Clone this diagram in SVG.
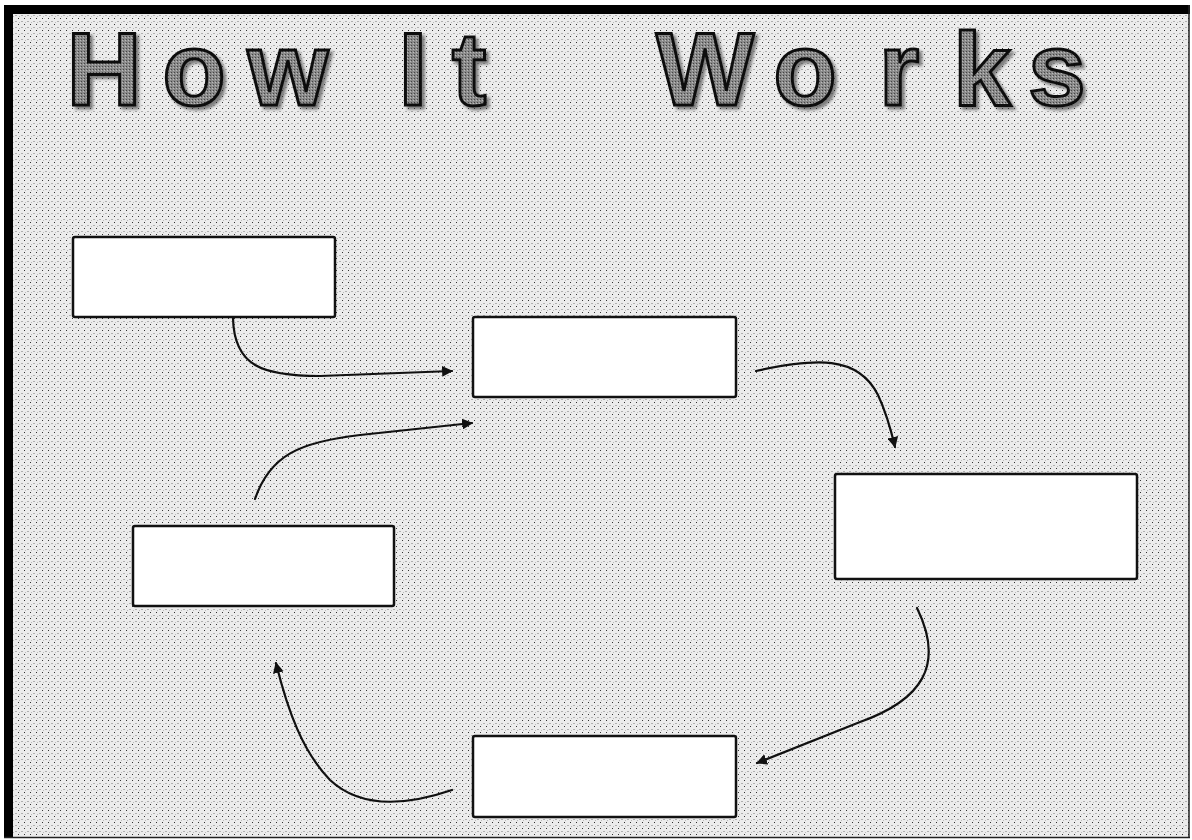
<svg xmlns="http://www.w3.org/2000/svg" width="1192" height="840" viewBox="0 0 1192 840">
<style>
.box{fill:#ffffff;stroke:#111;stroke-width:2.5}
.conn{fill:none;stroke:#111;stroke-width:2.2;stroke-linecap:round}
.title{font-family:"Liberation Sans","DejaVu Sans",sans-serif;font-weight:bold;font-size:104px;text-anchor:middle}
</style>
<defs>
<pattern id="dots" width="6" height="6" patternUnits="userSpaceOnUse">
<rect width="6" height="6" fill="#ececec"/>
<rect x="0" y="0" width="1" height="1" fill="#333"/>
<rect x="3" y="3" width="2" height="1" fill="#b0b0b0"/>
<rect x="1" y="4" width="1" height="1" fill="#bbb"/>
</pattern>
<pattern id="tex" width="3" height="3" patternUnits="userSpaceOnUse">
<rect width="3" height="3" fill="#8a8a8a"/>
<rect width="1" height="1" fill="#444"/>
<rect x="2" y="1" width="1" height="1" fill="#bbb"/>
</pattern>
<filter id="shadow" x="-10%" y="-10%" width="130%" height="130%">
<feDropShadow dx="3" dy="3" stdDeviation="1.5" flood-color="#333" flood-opacity="0.6"/>
</filter>
<marker id="arr" viewBox="0 0 10 10" refX="9" refY="5" markerWidth="5" markerHeight="5" orient="auto" markerUnits="strokeWidth">
<path d="M0,0 L10,5 L0,10 z" fill="#111"/>
</marker>
</defs>
<rect x="0" y="0" width="1192" height="840" fill="#ffffff"/>
<rect x="8" y="9" width="1181" height="828" fill="url(#dots)"/>
<rect x="4" y="5" width="9" height="833" fill="#000"/>
<rect x="4" y="5" width="1186" height="9" fill="#000"/>
<line x1="1189" y1="5" x2="1189" y2="838" stroke="#222" stroke-width="1.5"/>
<line x1="4" y1="837.5" x2="1190" y2="837.5" stroke="#222" stroke-width="1.5"/>

<g id="title">
<text class="title" x="104,194,288,413,469,705,805,899,982,1057" y="105" fill="url(#tex)" stroke="#111" stroke-width="3" filter="url(#shadow)">HowItWorks</text>
</g>

<g id="connectors">
<path class="conn" d="M233,318 C234,366 262,376 320,376 L452,371" marker-end="url(#arr)"/>
<path class="conn" d="M756,371 C815,358 858,355 878,395 C886,412 891,430 895,447" marker-end="url(#arr)"/>
<path class="conn" d="M917,608 C945,665 922,700 860,722 L757,763" marker-end="url(#arr)"/>
<path class="conn" d="M452,790 C405,806 360,808 330,780 C303,752 288,712 276,663" marker-end="url(#arr)"/>
<path class="conn" d="M255,499 C270,455 300,442 360,435 L472,423" marker-end="url(#arr)"/>
</g>

<g id="node1"><rect class="box" x="73" y="237" width="262" height="80" rx="2"/></g>
<g id="node2"><rect class="box" x="473" y="317" width="263" height="80" rx="2"/></g>
<g id="node3"><rect class="box" x="835" y="474" width="302" height="105" rx="2"/></g>
<g id="node4"><rect class="box" x="133" y="526" width="261" height="80" rx="2"/></g>
<g id="node5"><rect class="box" x="473" y="736" width="263" height="81" rx="2"/></g>
</svg>
